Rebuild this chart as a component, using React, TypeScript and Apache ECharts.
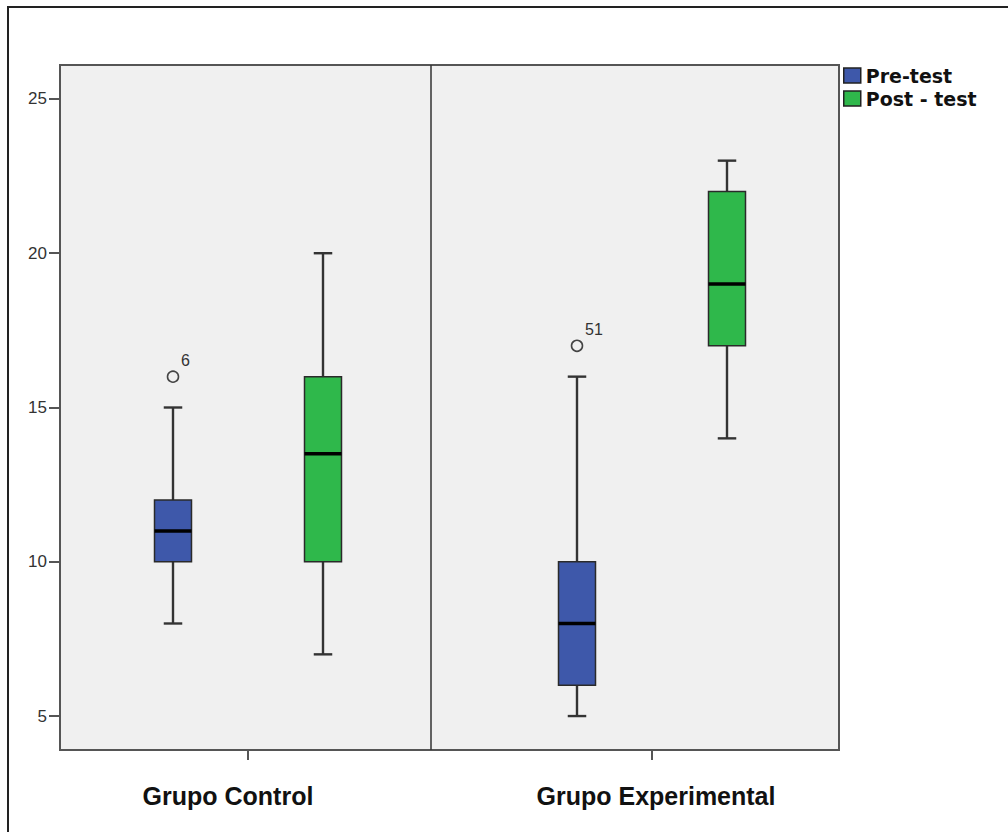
import React, { useEffect, useRef } from "react";
import * as echarts from "echarts";

// ---------- data ----------
const categories = ["Grupo Control", "Grupo Experimental"];
const seriesNames = ["Pre-test", "Post - test"];
// [min, Q1, median, Q3, max] for each category
const preTest = [
  [8, 10, 11, 12, 15],
  [5, 6, 8, 10, 16],
];
const postTest = [
  [7, 10, 13.5, 16, 20],
  [14, 17, 19, 22, 23],
];
// outliers: [categoryIndex, value, case label]
const preOutliers: [number, number, string][] = [
  [0, 16, "6"],
  [1, 17, "51"],
];
const yTicks = [5, 10, 15, 20, 25];

// ---------- styling / layout ----------
const Y_MIN = 3.9;
const Y_MAX = 26.1;
const BOX_FRAC = 37 / 404; // box width as a fraction of the category band
const GROUP_OFFSET = 75 / 404; // distance of each box from the category centre
const PRE_COLOR = "#3e58aa";
const POST_COLOR = "#2fb84b";
const FONT = "'Liberation Sans', Arial, sans-serif";

function boxRenderer(offsetFrac: number, fill: string) {
  return (params: any, api: any) => {
    const cat = api.value(0);
    const band = api.size([1, 0])[0];
    const cx = api.coord([cat, 0])[0] + offsetFrac * band;
    const half = (band * BOX_FRAC) / 2;
    const capHalf = half / 2;
    const y = (i: number) => api.coord([cat, api.value(i)])[1];
    const yLo = y(1);
    const yQ1 = y(2);
    const yMed = y(3);
    const yQ3 = y(4);
    const yHi = y(5);
    const ls = { stroke: "#333", lineWidth: 2.4, fill: "none" };
    return {
      type: "group",
      children: [
        { type: "line", shape: { x1: cx, y1: yQ3, x2: cx, y2: yHi }, style: ls },
        { type: "line", shape: { x1: cx, y1: yQ1, x2: cx, y2: yLo }, style: ls },
        { type: "line", shape: { x1: cx - capHalf, y1: yHi, x2: cx + capHalf, y2: yHi }, style: ls },
        { type: "line", shape: { x1: cx - capHalf, y1: yLo, x2: cx + capHalf, y2: yLo }, style: ls },
        {
          type: "rect",
          shape: { x: cx - half, y: yQ3, width: 2 * half, height: yQ1 - yQ3 },
          style: { fill, stroke: "#2a2a2a", lineWidth: 1.5 },
        },
        {
          type: "line",
          shape: { x1: cx - half, y1: yMed, x2: cx + half, y2: yMed },
          style: { stroke: "#000", lineWidth: 3.5 },
        },
      ],
    };
  };
}

function outlierRenderer(offsetFrac: number) {
  return (params: any, api: any) => {
    const cat = api.value(0);
    const band = api.size([1, 0])[0];
    const p = api.coord([cat, api.value(1)]);
    const cx = p[0] + offsetFrac * band;
    const cy = p[1];
    const label = preOutliers[params.dataIndex][2];
    return {
      type: "group",
      children: [
        {
          type: "circle",
          shape: { cx, cy, r: 5.5 },
          style: { fill: "none", stroke: "#444", lineWidth: 1.6 },
        },
        {
          type: "text",
          x: cx + 8,
          y: cy - 8,
          style: {
            text: label,
            fill: "#333",
            font: `16px ${FONT}`,
            textAlign: "left",
            textVerticalAlign: "bottom",
          },
        },
      ],
    };
  };
}

export default function App() {
  const ref = useRef<HTMLDivElement>(null);

  useEffect(() => {
    if (!ref.current) return;
    const chart = echarts.init(ref.current, undefined, { renderer: "svg" });

    const preData = categories.map((_, i) => [i, ...preTest[i]]);
    const postData = categories.map((_, i) => [i, ...postTest[i]]);
    const outData = preOutliers.map((o) => [o[0], o[1]]);

    chart.setOption({
      animation: false,
      backgroundColor: "#ffffff",
      grid: [
        {
          // frame / plot area
          left: 60,
          top: 65,
          width: 779,
          height: 685,
          show: true,
          backgroundColor: "#f0f0f0",
          borderColor: "#555",
          borderWidth: 2,
        },
        {
          // data grid: category centres at the two group ticks
          left: 46,
          top: 65,
          width: 808,
          height: 685,
          show: false,
        },
      ],
      xAxis: [
        { type: "category", gridIndex: 0, data: categories, show: false },
        {
          type: "category",
          gridIndex: 1,
          data: categories,
          axisLine: { show: false },
          axisTick: {
            show: true,
            alignWithLabel: true,
            length: 10,
            lineStyle: { color: "#555", width: 2 },
          },
          axisLabel: {
            margin: 33,
            fontFamily: FONT,
            fontWeight: "bold",
            fontSize: 25,
            color: "#111",
            formatter: (v: string) =>
              v === categories[0] ? `{l|${v}}` : `{r|${v}}`,
            rich: {
              l: {
                fontFamily: FONT,
                fontWeight: "bold",
                fontSize: 25,
                color: "#111",
                padding: [0, 40, 0, 0],
              },
              r: {
                fontFamily: FONT,
                fontWeight: "bold",
                fontSize: 25,
                color: "#111",
                padding: [0, 0, 0, 8],
              },
            },
          },
          splitLine: { show: false },
        },
      ],
      yAxis: [
        {
          type: "value",
          gridIndex: 0,
          min: Y_MIN,
          max: Y_MAX,
          axisLine: { show: false },
          splitLine: { show: false },
          axisTick: {
            show: true,
            length: 11,
            customValues: yTicks,
            lineStyle: { color: "#555", width: 2 },
          },
          axisLabel: {
            customValues: yTicks,
            margin: 13,
            fontFamily: FONT,
            fontSize: 17,
            color: "#333",
          },
        },
        {
          type: "value",
          gridIndex: 1,
          min: Y_MIN,
          max: Y_MAX,
          show: false,
          splitLine: { show: false },
        },
      ],
      legend: {
        orient: "vertical",
        left: 843,
        top: 66,
        padding: 0,
        itemGap: 4,
        itemWidth: 17,
        itemHeight: 15,
        icon: "rect",
        data: seriesNames,
        itemStyle: { borderColor: "#222", borderWidth: 1.5 },
        textStyle: {
          fontFamily: "'DejaVu Sans', sans-serif",
          fontWeight: "bold",
          fontSize: 19,
          lineHeight: 18,
          color: "#111",
          padding: [0, 0, 0, 0],
        },
      },
      graphic: [
        {
          type: "rect",
          shape: { x: 8, y: 7, width: 1010, height: 840 },
          style: { fill: "none", stroke: "#222", lineWidth: 2 },
          silent: true,
          z: 100,
        },
        {
          type: "line",
          shape: { x1: 431, y1: 65, x2: 431, y2: 750 },
          style: { stroke: "#333", lineWidth: 1.5 },
          silent: true,
          z: 1,
        },
      ],
      series: [
        {
          name: seriesNames[0],
          type: "custom",
          xAxisIndex: 1,
          yAxisIndex: 1,
          itemStyle: { color: PRE_COLOR },
          encode: { x: 0, y: [1, 2, 3, 4, 5] },
          renderItem: boxRenderer(-GROUP_OFFSET, PRE_COLOR),
          data: preData,
          z: 5,
        },
        {
          name: seriesNames[1],
          type: "custom",
          xAxisIndex: 1,
          yAxisIndex: 1,
          itemStyle: { color: POST_COLOR },
          encode: { x: 0, y: [1, 2, 3, 4, 5] },
          renderItem: boxRenderer(GROUP_OFFSET, POST_COLOR),
          data: postData,
          z: 5,
        },
        {
          name: seriesNames[0],
          type: "custom",
          xAxisIndex: 1,
          yAxisIndex: 1,
          itemStyle: { color: PRE_COLOR },
          encode: { x: 0, y: 1 },
          renderItem: outlierRenderer(-GROUP_OFFSET),
          data: outData,
          z: 5,
        },
      ],
    });

    return () => chart.dispose();
  }, []);

  return (
    <div
      ref={ref}
      style={{ position: "fixed", left: 0, top: 0, width: 1008, height: 832 }}
    />
  );
}
